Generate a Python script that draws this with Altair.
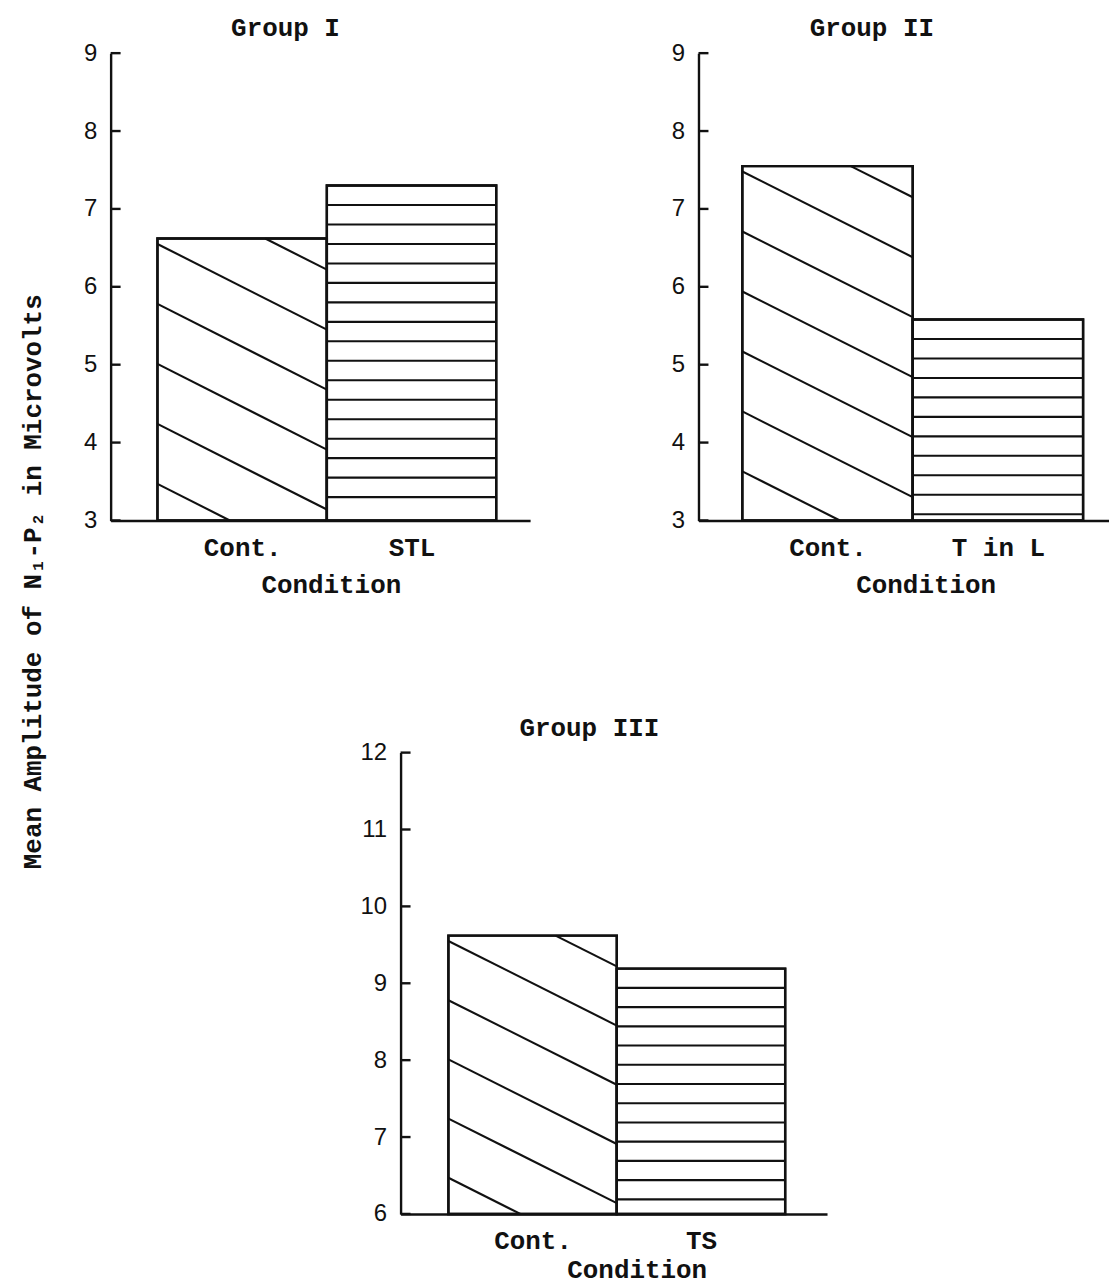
import json
import altair as alt
import pandas as pd

# ---------------- values ----------------
group_titles = ["Group I", "Group II", "Group III"]
cond_g1 = ["Cont.", "STL"]
amp_g1 = [6.62, 7.30]
cond_g2 = ["Cont.", "T in L"]
amp_g2 = [7.55, 5.58]
cond_g3 = ["Cont.", "TS"]
amp_g3 = [9.62, 9.19]
ticks_g1 = [3, 4, 5, 6, 7, 8, 9]
ticks_g2 = [3, 4, 5, 6, 7, 8, 9]
ticks_g3 = [6, 7, 8, 9, 10, 11, 12]
x_title = "Condition"
y_title = "Mean Amplitude of N\u2081-P\u2082 in Microvolts"

# ---------------- style ----------------
MONO = "Liberation Mono"
SANS = "Liberation Sans"
INK = "#111111"
LW = 2.4
HATCH_W = 2.1
DIAG_DROP = 1.1      # drop of a diagonal hatch line across one bar (data units)
DIAG_GAP = 0.77      # vertical gap between diagonal hatch lines
DIAG_START = 0.07    # first diagonal below the bar top
HOR_GAP = 0.25       # gap between horizontal hatch lines


def hatch_rows(amps, lo):
    rows = []
    top = amps[0]
    k = -1
    while True:
        v = top - DIAG_START - k * DIAG_GAP
        if v <= lo:
            break
        f0 = max(0.0, (v - top) / DIAG_DROP)
        f1 = min(1.0, (v - lo) / DIAG_DROP)
        if f1 > f0:
            rows.append({"x0": 0 + f0, "x1": 0 + f1,
                         "y0": v - DIAG_DROP * f0, "y1": v - DIAG_DROP * f1})
        k += 1
    top = amps[1]
    k = 1
    while top - HOR_GAP * k > lo + 0.05:
        y = top - HOR_GAP * k
        rows.append({"x0": 1.0, "x1": 2.0, "y0": y, "y1": y})
        k += 1
    return pd.DataFrame(rows)


def panel(title, conds, amps, ticks, group_w, shift, width, height, left_gap,
          step, title_dx, title_dy, cond_x, cond_y, with_ytitle):
    lo, hi = ticks[0], ticks[-1]
    xscale = alt.Scale(domain=[-left_gap / step, (width - left_gap) / step],
                       range=[shift, shift + width], nice=False, zero=False)
    yscale = alt.Scale(domain=[lo, hi], nice=False, zero=False)
    n = len(conds)
    bars = pd.DataFrame({"cond": conds,
                         "i": list(range(n)),
                         "i2": [k + 1 for k in range(n)],
                         "base": [lo] * n,
                         "amp": amps})
    label_expr = json.dumps(conds) + "[floor(datum.value)]"
    xaxis = alt.Axis(values=[k + 0.5 for k in range(n)], labelExpr=label_expr,
                     ticks=False, grid=False, domain=True, domainColor=INK,
                     domainWidth=LW, labelFont=MONO, labelFontSize=26,
                     labelFontWeight="bold", labelColor=INK, labelPadding=14,
                     labelAngle=0, labelFlush=False, labelOverlap=False,
                     title=x_title, titleFont=MONO, titleFontSize=26,
                     titleFontWeight="bold", titleColor=INK, titleX=cond_x,
                     titleY=cond_y, titleAlign="center", titleBaseline="top")
    yaxis_kw = dict(values=ticks, ticks=False, grid=False, domain=True,
                    domainColor=INK, domainWidth=LW, labelFont=SANS,
                    labelFontSize=24, labelColor=INK, labelPadding=14,
                    labelFlush=False, labelOverlap=False, offset=-shift)
    if with_ytitle:
        yaxis = alt.Axis(title=y_title, titleFont=MONO, titleFontSize=26,
                         titleFontWeight="bold", titleColor=INK, titleAngle=270,
                         titleX=-78, titleY=530, titleAlign="center",
                         titleBaseline="middle", **yaxis_kw)
    else:
        yaxis = alt.Axis(title=None, **yaxis_kw)

    base = alt.Chart(bars)
    fill = base.mark_rect(fill="white", stroke=INK, strokeWidth=LW).encode(
        x=alt.X("i:Q", scale=xscale, axis=xaxis), x2="i2:Q",
        y=alt.Y("base:Q", scale=yscale, axis=yaxis), y2="amp:Q")
    hatch = alt.Chart(hatch_rows(amps, lo)).mark_rule(
        stroke=INK, strokeWidth=HATCH_W).encode(
        x=alt.X("x0:Q", scale=xscale, axis=xaxis), x2="x1:Q",
        y=alt.Y("y0:Q", scale=yscale, axis=yaxis), y2="y1:Q")
    outline = base.mark_rect(fill="white", fillOpacity=0, stroke=INK,
                             strokeWidth=LW).encode(
        x=alt.X("i:Q", scale=xscale, axis=xaxis), x2="i2:Q",
        y=alt.Y("base:Q", scale=yscale, axis=yaxis), y2="amp:Q")
    tick_marks = alt.Chart(pd.DataFrame({"t": ticks})).mark_rule(
        stroke=INK, strokeWidth=LW).encode(
        y=alt.Y("t:Q", scale=yscale, axis=yaxis),
        x=alt.value(shift), x2=alt.value(shift + 10))
    return alt.layer(fill, hatch, outline, tick_marks).properties(
        width=group_w, height=height,
        title=alt.TitleParams(text=title, font=MONO, fontSize=26,
                              fontWeight="bold", color=INK, anchor="middle",
                              frame="group", dx=title_dx, dy=title_dy,
                              offset=0, baseline="bottom"))


p1 = panel(group_titles[0], cond_g1, amp_g1, ticks_g1, 421, 0, 421, 469, 47,
           170, -35, 26, 221, 51, True)
p2 = panel(group_titles[1], cond_g2, amp_g2, ticks_g2, 412, 0, 412, 469, 44,
           171, -32, 26, 228, 51, False)
p3 = panel(group_titles[2], cond_g3, amp_g3, ticks_g3, 421, 291, 428, 463, 48,
           169, 270, 26, 528, 43, False)

chart = alt.concat(p1, p2, p3, columns=2,
                   spacing={"row": 233, "column": 169},
                   bounds="flush").properties(
    padding={"left": 12, "top": 5, "right": 0, "bottom": 0},
    background="white",
).configure_view(strokeWidth=0)

chart.save("out.html", embed_options={"renderer": "svg", "actions": False})
